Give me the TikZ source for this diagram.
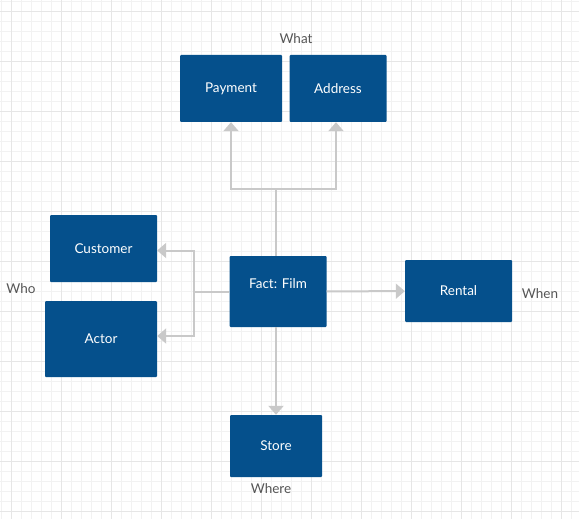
\documentclass[tikz,border=0pt]{standalone}
\usepackage{fontspec}
\setmainfont{Lato}
\usetikzlibrary{arrows.meta}
\definecolor{boxblue}{HTML}{05508C}
\definecolor{linkgray}{HTML}{C9C9C9}
\definecolor{labelgray}{HTML}{555555}
\definecolor{gridminor}{HTML}{F2F2F2}
\definecolor{gridmajor}{HTML}{E6E6E6}
\begin{document}
\begin{tikzpicture}[x=1pt,y=-1pt,
  dim/.style={draw=none,fill=boxblue,rounded corners=1pt,text=white,font=\fontsize{13.5}{16}\selectfont,inner sep=0pt,align=center},
  tag/.style={text=labelgray,font=\fontsize{13.5}{16}\selectfont,inner sep=0pt},
  link/.style={draw=linkgray,line width=2pt},
  tip/.style={-{Triangle[width=15pt,length=9pt]}}]
\useasboundingbox (0,0) rectangle (579,519);
\fill[white] (0,0) rectangle (579,519);
\foreach \k in {0,...,57} \draw[gridminor,line width=0.8pt] (1+10*\k,0) -- (1+10*\k,519);
\foreach \k in {0,...,51} \draw[gridminor,line width=0.8pt] (0,1+10*\k) -- (579,1+10*\k);
\foreach \k in {0,...,11} \draw[gridmajor,line width=0.8pt] (11+50*\k,0) -- (11+50*\k,519);
\foreach \k in {0,...,10} \draw[gridmajor,line width=0.8pt] (0,11+50*\k) -- (579,11+50*\k);

\node[dim, minimum width=102, minimum height=67] (payment) at (231,88.5) {Payment};
\node[dim, minimum width=97, minimum height=67] (address) at (338,88.5) {Address};
\node[dim, minimum width=107, minimum height=67] (customer) at (103.5,248.5) {Customer};
\node[dim, minimum width=112, minimum height=76] (actor) at (101,339) {Actor};
\node[dim, minimum width=97, minimum height=71] (fact) at (278,291.5) {Fact: Film\\\mbox{}};
\node[dim, minimum width=107, minimum height=62] (rental) at (458.5,291) {Rental};
\node[dim, minimum width=92, minimum height=62] (store) at (276,446) {Store};

\node[tag] (what) at (296,39) {What};
\node[tag] (who) at (21,289) {Who};
\node[tag] (when) at (540,294) {When};
\node[tag] (where) at (271,489) {Where};

\coordinate (whatfork) at (276,189);
\coordinate (whofork) at (194,291.5);

\path[link] (whatfork |- fact.north) -- (whatfork);
\path[link,tip] (whatfork) -| (payment.south);
\path[link,tip] (whatfork) -| ([xshift=-2]address.south);
\path[link] (fact.west) -- (whofork);
\path[link,tip] (whofork) |- ([yshift=-2]customer.east);
\path[link,tip] (whofork) |- ([yshift=3]actor.east);
\path[link,tip] (fact) -- (rental);
\path[link,tip] (store.north |- fact.south) -- (store.north);
\end{tikzpicture}
\end{document}
